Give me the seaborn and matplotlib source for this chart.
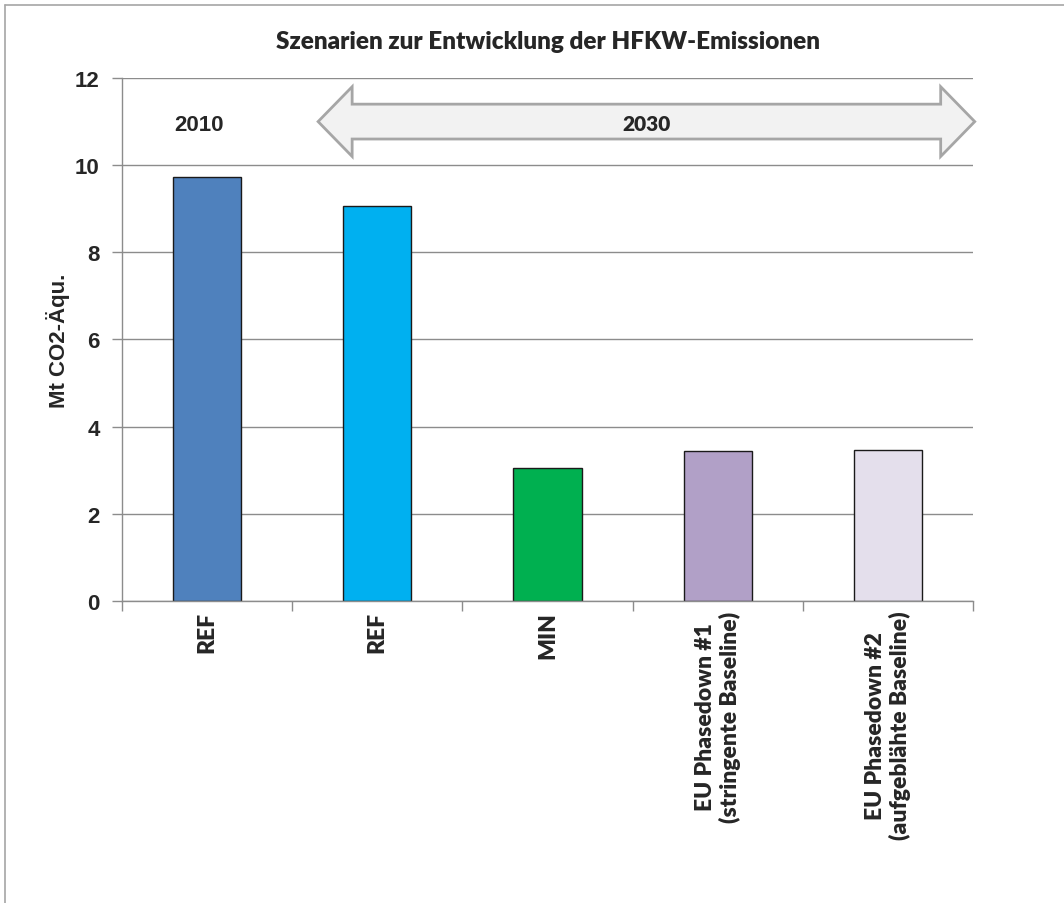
import numpy as np
import pandas as pd
import matplotlib
matplotlib.use("Agg")
import matplotlib.pyplot as plt
from matplotlib.patches import Polygon
from matplotlib.lines import Line2D
import seaborn as sns

# Scenario data (Mt CO2-equivalent)
keys = ["REF_2010", "REF_2030", "MIN_2030", "EU1_2030", "EU2_2030"]
tick_labels = ["REF", "REF", "MIN",
               "EU Phasedown #1\n(stringente Baseline)",
               "EU Phasedown #2\n(aufgeblähte Baseline)"]
values = [9.73, 9.07, 3.05, 3.44, 3.47]
bar_colors = ["#4F81BD", "#00B0F0", "#00B050", "#B1A0C7", "#E4DFEC"]

title = "Szenarien zur Entwicklung der HFKW-Emissionen"
ylabel = "Mt CO2-Äqu."

df = pd.DataFrame({"key": keys, "value": values})

sns.set_style("white")
plt.rcParams["font.family"] = ["Liberation Sans", "DejaVu Sans"]

HUM = ["Lato", "DejaVu Sans"]
HUM_W = "heavy"
GRID = "#8C8C8C"
fig = plt.figure(figsize=(10.64, 9.04), dpi=100)
ax = fig.add_axes([0.1147, 0.3341, 0.7998, 0.5785])

sns.barplot(data=df, x="key", y="value", hue="key", order=keys,
            hue_order=keys, palette=bar_colors, width=0.4,
            edgecolor="#1a1a1a", linewidth=1.0, legend=False, ax=ax,
            saturation=1)

ax.set_xlim(-0.5, 4.5)
ax.set_ylim(0, 12)
ax.set_yticks(np.arange(0, 13, 2))
ax.yaxis.grid(True, color=GRID, lw=1.0)
ax.set_axisbelow(True)

for s in ["top", "right"]:
    ax.spines[s].set_visible(False)
for s in ["left", "bottom"]:
    ax.spines[s].set_color(GRID)
    ax.spines[s].set_linewidth(1.0)

# y ticks
ax.tick_params(axis="y", length=7, width=1, color=GRID, pad=9,
               labelsize=16, left=True)
for lab in ax.get_yticklabels():
    lab.set_fontweight("bold")

# x category labels (no marks at centers), marks at category borders
ax.set_xticks(range(len(keys)))
ax.set_xticklabels(tick_labels, rotation=90, ha="center", va="top",
                   multialignment="center", fontsize=16.5,
                   fontweight=HUM_W, family=HUM, linespacing=1.15)
ax.tick_params(axis="x", which="major", length=0, pad=7)
ax.set_xticks(np.arange(-0.5, len(keys), 1), minor=True)
ax.tick_params(axis="x", which="minor", length=7, width=1, color=GRID,
               bottom=True)

ax.set_xlabel("")
ax.set_ylabel(ylabel, fontsize=16, fontweight="bold", labelpad=4)

fig.text(0.5146, 1 - 42 / 904, title, ha="center", va="center",
         fontsize=17.5, fontweight=HUM_W, family=HUM)

# Double-headed block arrow marking the 2030 scenarios
xl, xr = 0.652, 4.51
head = 0.2
yc, hh, bh = 11.0, 0.8, 0.4
pts = [(xl, yc), (xl + head, yc + hh), (xl + head, yc + bh),
       (xr - head, yc + bh), (xr - head, yc + hh), (xr, yc),
       (xr - head, yc - hh), (xr - head, yc - bh), (xl + head, yc - bh),
       (xl + head, yc - hh)]
ax.add_patch(Polygon(pts, closed=True, facecolor="#F2F2F2",
                     edgecolor="#A6A6A6", lw=2, clip_on=False, zorder=5))
ax.text((xl + xr) / 2, yc - 0.05, "2030", ha="center", va="center",
        fontsize=15, fontweight=HUM_W, family=HUM, zorder=6)
ax.text(-0.05, 10.93, "2010", ha="center", va="center", fontsize=16,
        fontweight="bold")

# Chart-area frame
bx, by = 5 / 1064, 1 - 6 / 904
fig.add_artist(Line2D([bx, bx], [0, by], color="#A6A6A6", lw=1.2,
                      transform=fig.transFigure))
fig.add_artist(Line2D([bx, 1], [by, by], color="#A6A6A6", lw=1.2,
                      transform=fig.transFigure))

fig.savefig("out.png", dpi=100, facecolor="white")
